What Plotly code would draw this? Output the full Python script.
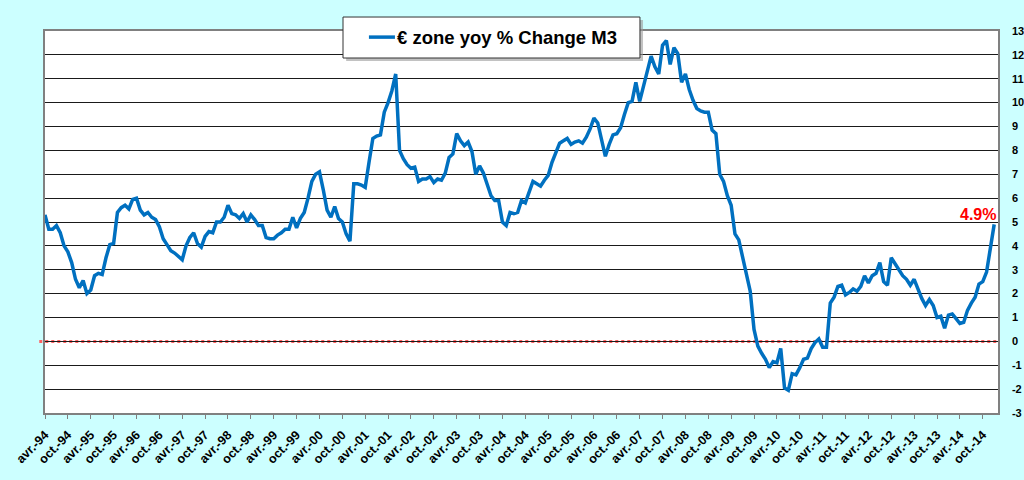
import plotly.graph_objects as go

# monthly M3 yoy % change, avr.-94 .. janv.-15
m3_yoy = [
    5.3, 4.7, 4.7, 4.85, 4.55, 4.0, 3.75, 3.3, 2.6, 2.25,
    2.55, 2.0, 2.15, 2.75, 2.85, 2.8, 3.5, 4.05, 4.1, 5.4,
    5.6, 5.7, 5.55, 5.95, 6.0, 5.5, 5.3, 5.4, 5.2, 5.1,
    4.8, 4.3, 4.05, 3.8, 3.7, 3.55, 3.42, 4.0, 4.35, 4.55,
    4.1, 3.95, 4.4, 4.6, 4.55, 5.0, 5.0, 5.2, 5.7, 5.35,
    5.3, 5.15, 5.35, 5.0, 5.3, 5.1, 4.85, 4.85, 4.35, 4.3,
    4.3, 4.45, 4.55, 4.7, 4.7, 5.2, 4.75, 5.15, 5.4, 6.0,
    6.7, 7.0, 7.1, 6.35, 5.5, 5.2, 5.65, 5.15, 5.0, 4.5,
    4.2, 6.6, 6.6, 6.55, 6.45, 7.5, 8.5, 8.6, 8.65, 9.6,
    10.0, 10.5, 11.2, 8.0, 7.65, 7.4, 7.25, 7.3, 6.7, 6.8,
    6.8, 6.9, 6.65, 6.8, 6.75, 7.05, 7.7, 7.85, 8.7, 8.4,
    8.2, 8.35, 7.95, 7.0, 7.35, 7.05, 6.6, 6.1, 5.9, 5.9,
    5.0, 4.85, 5.4, 5.35, 5.4, 5.9, 5.8, 6.25, 6.7, 6.6,
    6.5, 6.75, 6.95, 7.5, 7.95, 8.3, 8.4, 8.5, 8.25, 8.35,
    8.4, 8.3, 8.55, 8.9, 9.35, 9.15, 8.45, 7.75, 8.25, 8.65,
    8.7, 8.95, 9.5, 10.0, 10.05, 10.85, 10.05, 10.7, 11.2, 11.95,
    11.5, 11.2, 12.4, 12.6, 11.6, 12.3, 12.05, 10.85, 11.2, 10.55,
    10.1, 9.75, 9.65, 9.6, 9.6, 8.85, 8.7, 7.0, 6.7, 6.1,
    5.7, 4.5, 4.25, 3.5, 2.8, 2.1, 0.5, -0.2, -0.5, -0.75,
    -1.1, -0.85, -0.9, -0.3, -1.95, -2.05, -1.35, -1.4, -1.1, -0.75,
    -0.7, -0.3, -0.05, 0.1, -0.25, -0.25, 1.6, 1.85, 2.3, 2.35,
    1.95, 2.05, 2.2, 2.1, 2.3, 2.75, 2.45, 2.75, 2.85, 3.3,
    2.5, 2.35, 3.5, 3.25, 2.95, 2.75, 2.6, 2.35, 2.6, 2.2,
    1.8, 1.5, 1.75, 1.5, 1.0, 1.05, 0.55, 1.1, 1.15, 0.95,
    0.75, 0.8, 1.3, 1.6, 1.85, 2.4, 2.5, 2.9, 3.9, 4.9,
]

mois = ["janv.", "févr.", "mars", "avr.", "mai", "juin",
        "juil.", "août", "sept.", "oct.", "nov.", "déc."]
# category labels, one per month starting avr.-94
months = [f"{mois[(3 + i) % 12]}-{(1994 + (3 + i) // 12) % 100:02d}" for i in range(len(m3_yoy))]
tick_labels = months[::6]

y_ticks = list(range(-3, 14))
y_ticktext = [str(v) for v in y_ticks]   # plain hyphen like Excel

last_label = "4.9%"
series_name = "€ zone yoy % Change M3"

fnt = "Arial, Liberation Sans, sans-serif"
blue = "#0070C0"

fig = go.Figure()
fig.add_trace(go.Scatter(x=months, y=m3_yoy, mode="lines", name=series_name,
                         showlegend=False, line=dict(color=blue, width=3.5)))

# white out the 0 gridline, then red dotted zero line on top
fig.add_shape(type="line", xref="paper", yref="y", x0=0, x1=1, y0=0, y1=0,
              line=dict(color="white", width=2), layer="between")
fig.add_shape(type="line", xref="paper", yref="y", x0=-0.006, x1=1, y0=0, y1=0,
              line=dict(color="#FF6060", width=3, dash="3px,3px"), layer="between")

# legend box drawn by hand (Excel style, with shadow)
fig.add_shape(type="rect", xref="paper", yref="paper", x0=0.3160, x1=0.6275, y0=0.9215, y1=1.0290,
              fillcolor="#9a9a9a", line=dict(width=0), opacity=0.6, layer="above")
fig.add_shape(type="rect", xref="paper", yref="paper", x0=0.3127, x1=0.6243, y0=0.9293, y1=1.0366,
              fillcolor="white", line=dict(color="#333333", width=1), layer="above")
fig.add_shape(type="line", xref="paper", yref="paper", x0=0.3399, x1=0.3672, y0=0.984, y1=0.984,
              line=dict(color=blue, width=3.5), layer="above")
fig.add_annotation(xref="paper", yref="paper", x=0.3672, y=0.984, xanchor="left", yanchor="middle",
                   text=series_name, showarrow=False,
                   font=dict(family=fnt, size=18.5, color="black", weight="bold"))

fig.add_annotation(x=months[-1], y=m3_yoy[-1], text=last_label, showarrow=False,
                   yshift=10, xshift=-16, font=dict(family=fnt, size=16, color="red", weight="bold"))

fig.update_xaxes(type="category", range=[0, 250], tickmode="array",
                 tickvals=tick_labels, ticktext=tick_labels, tickangle=-45,
                 ticks="outside", ticklen=4, tickcolor="#808080", tickwidth=1,
                 ticklabelstandoff=4,
                 tickfont=dict(family=fnt, size=12.5, color="black", weight="bold"),
                 showgrid=False, showline=True, linecolor="#808080", linewidth=1.5,
                 mirror=True, zeroline=False, automargin=False)
fig.update_yaxes(side="right", range=[-3, 13], tickmode="array",
                 tickvals=y_ticks, ticktext=y_ticktext,
                 showgrid=True, gridcolor="#1a1a1a", gridwidth=1, zeroline=False,
                 showline=True, linecolor="#808080", linewidth=1.5, mirror=True,
                 ticks="", ticklabelstandoff=10, automargin=False,
                 tickfont=dict(family=fnt, size=11, color="black", weight="bold"))

fig.update_layout(
    width=1024, height=480,
    paper_bgcolor="#CCFFFF", plot_bgcolor="white",
    margin=dict(l=45, r=26, t=31, b=67),
    showlegend=False,
)

fig.write_html("out.html", config={"displayModeBar": False},
               post_script="document.body.style.margin='0';")
